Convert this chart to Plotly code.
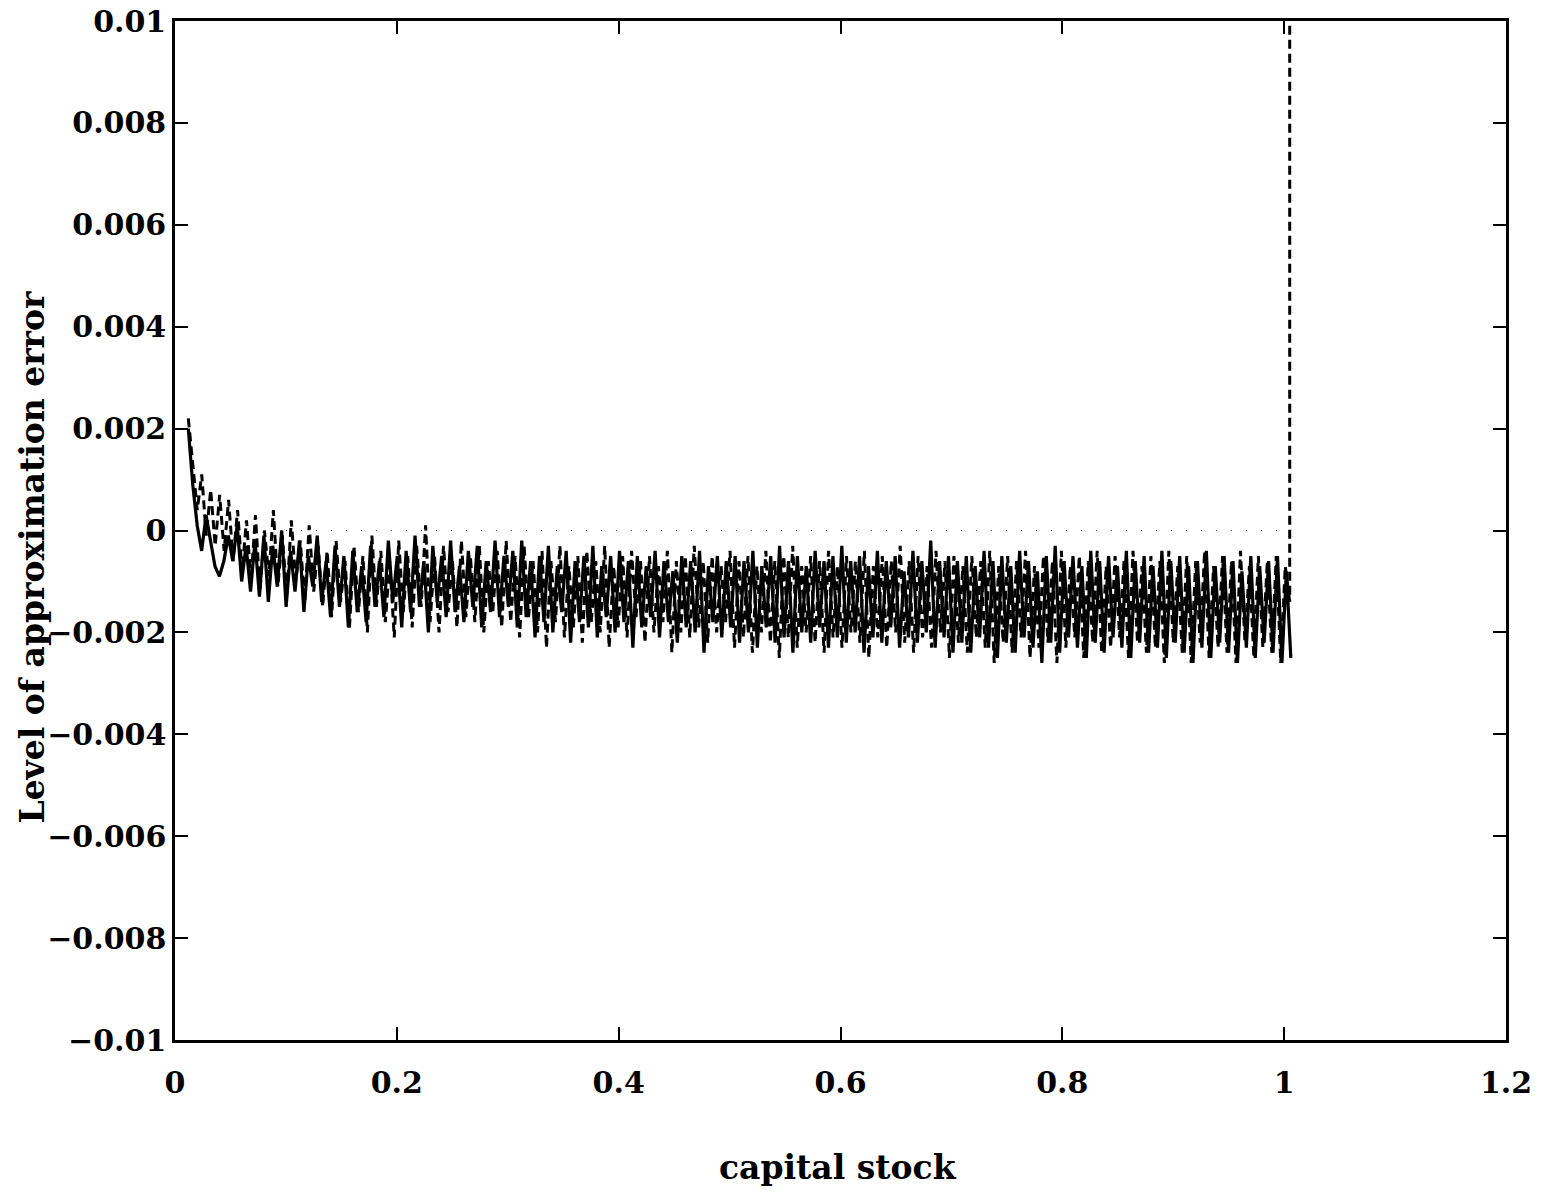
import numpy as np
import plotly.graph_objects as go

# ---- data ----
solid_x_range = [0.012, 1.006]
solid_err = [
    0.0020, 0.0009, 0.0001, -0.0004, 0.0003,
    -0.0002, -0.0007, -0.0009, -0.0006, -0.0001, -0.0006, 0.0001, -0.0010, -0.0003, -0.0012,
    -0.0002, -0.0013, -0.0001, -0.0014, -0.0003, -0.0011, 0.0000, -0.0015, -0.0004, -0.0012,
    -0.0002, -0.0016, -0.0005, -0.0011, -0.0001, -0.0014, -0.0006, -0.0017, -0.0003, -0.0015,
    -0.0005, -0.0019, -0.0004, -0.0016, -0.0007, -0.0018, -0.0003, -0.0015, -0.0006, -0.0017,
    -0.0002, -0.0014, -0.0005, -0.0019, -0.0004, -0.0016, -0.0001, -0.0015, -0.0006, -0.0020,
    -0.0003, -0.0014, -0.0005, -0.0017, -0.0002, -0.0016, -0.0007, -0.0018, -0.0004, -0.0015,
    -0.0003, -0.0019, -0.0006, -0.0016, -0.0002, -0.0017, -0.0005, -0.0015,
    -0.0004, -0.0019, -0.0002, -0.0017, -0.0006, -0.0021, -0.0005, -0.0018, -0.0003, -0.0020,
    -0.0007, -0.0016, -0.0004, -0.0022, -0.0006, -0.0018, -0.0005, -0.0019, -0.0003, -0.0021,
    -0.0007, -0.0017, -0.0005, -0.0020, -0.0004, -0.0018, -0.0006, -0.0023, -0.0005, -0.0019,
    -0.0007, -0.0017, -0.0004, -0.0021, -0.0006, -0.0018, -0.0008, -0.0022, -0.0005, -0.0019,
    -0.0006, -0.0020, -0.0004, -0.0024, -0.0007, -0.0018, -0.0005, -0.0021, -0.0006, -0.0019,
    -0.0005, -0.0022, -0.0006, -0.0020, -0.0004, -0.0023, -0.0007, -0.0019, -0.0005, -0.0022,
    -0.0003, -0.0021, -0.0006, -0.0024, -0.0005, -0.0020, -0.0007, -0.0022, -0.0004, -0.0019,
    -0.0006, -0.0023, -0.0005, -0.0021, -0.0003, -0.0022, -0.0006, -0.0020, -0.0005, -0.0024,
    -0.0007, -0.0021, -0.0004, -0.0022, -0.0006, -0.0019, -0.0005, -0.0023, -0.0008, -0.0021,
    -0.0004, -0.0022, -0.0006, -0.0020, -0.0002, -0.0023, -0.0006, -0.0021, -0.0005, -0.0024,
    -0.0006, -0.0022, -0.0005, -0.0024, -0.0007, -0.0021, -0.0004, -0.0023, -0.0006, -0.0025,
    -0.0005, -0.0022, -0.0007, -0.0024, -0.0004, -0.0021, -0.0006, -0.0023, -0.0008, -0.0026,
    -0.0005, -0.0022, -0.0003, -0.0024, -0.0006, -0.0021, -0.0005, -0.0023, -0.0007, -0.0025,
    -0.0004, -0.0022, -0.0006, -0.0024, -0.0005, -0.0021, -0.0007, -0.0023, -0.0004, -0.0025,
    -0.0006, -0.0022, -0.0005, -0.0024, -0.0007, -0.0023, -0.0004, -0.0025, -0.0006, -0.0022,
    -0.0005, -0.0024, -0.0007, -0.0026, -0.0006, -0.0023, -0.0004, -0.0025, -0.0007, -0.0022,
    -0.0005, -0.0024, -0.0006, -0.0026, -0.0008, -0.0023, -0.0005, -0.0025, -0.0007, -0.0022,
    -0.0006, -0.0024, -0.0005, -0.0026, -0.0008, -0.0025,
]

dashed_x_range = [0.012, 1.005]
dashed_err = [
    0.0022, 0.0013, 0.0004, 0.0011, -0.0001, 0.0008, -0.0003, 0.0007, -0.0004, 0.0006,
    -0.0006, 0.0004, -0.0008, 0.0002, -0.0010, 0.0003, -0.0012, 0.0000, -0.0009, 0.0004,
    -0.0011, -0.0001, -0.0013, 0.0002, -0.0010, -0.0002, -0.0014, 0.0001, -0.0012, -0.0003,
    -0.0015,
    -0.0004, -0.0017, -0.0002, -0.0014, -0.0006, -0.0019, -0.0003, -0.0016, -0.0005, -0.0020,
    -0.0001, -0.0015, -0.0004, -0.0018, -0.0006, -0.0021, -0.0002, -0.0016, -0.0005, -0.0019,
    -0.0003, -0.0015, 0.0001, -0.0018, -0.0005, -0.0020, -0.0003, -0.0016, -0.0006, -0.0019,
    -0.0002, -0.0017, -0.0005, -0.0018, -0.0003, -0.0020, -0.0006, -0.0016, -0.0004, -0.0019,
    -0.0002,
    -0.0018, -0.0005, -0.0021, -0.0003, -0.0017, -0.0006, -0.0020, -0.0004, -0.0023, -0.0006,
    -0.0018, -0.0003, -0.0021, -0.0007, -0.0019, -0.0005, -0.0022, -0.0004, -0.0018, -0.0006,
    -0.0020, -0.0003, -0.0023, -0.0007, -0.0019, -0.0005, -0.0021, -0.0004, -0.0017, -0.0006,
    -0.0022, -0.0005, -0.0020, -0.0007, -0.0018, -0.0004, -0.0024, -0.0006, -0.0020, -0.0005,
    -0.0021, -0.0003, -0.0019, -0.0006, -0.0022, -0.0005, -0.0020, -0.0007, -0.0018, -0.0004,
    -0.0023, -0.0006, -0.0021, -0.0005, -0.0024, -0.0007, -0.0020, -0.0004, -0.0022, -0.0006,
    -0.0025, -0.0005, -0.0021, -0.0003, -0.0023, -0.0007, -0.0020, -0.0005, -0.0022, -0.0006,
    -0.0024, -0.0004, -0.0021, -0.0007, -0.0023, -0.0005, -0.0020, -0.0006, -0.0022, -0.0004,
    -0.0025, -0.0007, -0.0021, -0.0005, -0.0023, -0.0006, -0.0020, -0.0003, -0.0022, -0.0006,
    -0.0024, -0.0005, -0.0021, -0.0007, -0.0023, -0.0004, -0.0020, -0.0006, -0.0025, -0.0005,
    -0.0022, -0.0007, -0.0024, -0.0005, -0.0021, -0.0006, -0.0023, -0.0004, -0.0026, -0.0007,
    -0.0022, -0.0005, -0.0024, -0.0006, -0.0021, -0.0004, -0.0025, -0.0007, -0.0023, -0.0005,
    -0.0022, -0.0006, -0.0026, -0.0004, -0.0023, -0.0007, -0.0021, -0.0005, -0.0025, -0.0006,
    -0.0022, -0.0004, -0.0024, -0.0007, -0.0023, -0.0005, -0.0021, -0.0006, -0.0025, -0.0004,
    -0.0022, -0.0007, -0.0024, -0.0005, -0.0023, -0.0006, -0.0026, -0.0004, -0.0022, -0.0007,
    -0.0024, -0.0005, -0.0026, -0.0006, -0.0022, -0.0004, -0.0025, -0.0007, -0.0023, -0.0005,
    -0.0024, -0.0006, -0.0026, -0.0004, -0.0022, -0.0007, -0.0025, -0.0005, -0.0023, -0.0006,
    -0.0024, -0.0005, -0.0026, -0.0007, -0.0014,
]
# dashed series ends with a jump up off the top of the axis
dashed_end = {"x": 1.005, "y": 0.0105}

zero_line_x = [0.1, 1.0]
zero_line_y = [0.0, 0.0]

x_ticks = [0, 0.2, 0.4, 0.6, 0.8, 1.0, 1.2]
x_tick_text = ["0", "0.2", "0.4", "0.6", "0.8", "1", "1.2"]
y_ticks = [0.01, 0.008, 0.006, 0.004, 0.002, 0, -0.002, -0.004, -0.006, -0.008, -0.01]
y_tick_text = ["0.01", "0.008", "0.006", "0.004", "0.002", "0", "\u22120.002",
               "\u22120.004", "\u22120.006", "\u22120.008", "\u22120.01"]

# ---- figure ----
solid_x = np.linspace(solid_x_range[0], solid_x_range[1], len(solid_err))
dashed_x = list(np.linspace(dashed_x_range[0], dashed_x_range[1], len(dashed_err))) + [dashed_end["x"]]
dashed_y = dashed_err + [dashed_end["y"]]

FONT = "DejaVu Serif"

fig = go.Figure()
fig.add_trace(go.Scatter(x=zero_line_x, y=zero_line_y, mode="lines",
                         line=dict(color="#555555", width=1.2, dash="1px,14px"),
                         hoverinfo="skip"))
fig.add_trace(go.Scatter(x=dashed_x, y=dashed_y, mode="lines",
                         line=dict(color="black", width=3, dash="9px,5px")))
fig.add_trace(go.Scatter(x=solid_x, y=solid_err, mode="lines",
                         line=dict(color="black", width=3.2)))

axis_common = dict(showline=True, linecolor="black", linewidth=2.5, mirror="ticks",
                   ticks="inside", ticklen=13, tickwidth=2, tickcolor="black",
                   showgrid=False, zeroline=False, automargin=False,
                   tickfont=dict(family=FONT, size=30, color="black", weight="bold"))

fig.update_xaxes(range=[0, 1.2], tickvals=x_ticks, ticktext=x_tick_text,
                 ticklabelstandoff=14, **axis_common)
fig.update_yaxes(range=[-0.01, 0.01], tickvals=y_ticks, ticktext=y_tick_text,
                 **axis_common)

fig.update_layout(
    width=1541, height=1192,
    margin=dict(l=175, r=35, t=21, b=152, autoexpand=False),
    paper_bgcolor="white", plot_bgcolor="white",
    showlegend=False,
    annotations=[
        dict(text="capital stock", xref="paper", yref="paper", x=0.498, y=-0.125,
             showarrow=False, xanchor="center", yanchor="middle",
             font=dict(family=FONT, size=33, color="black", weight="bold")),
        dict(text="Level of approximation error", xref="paper", yref="paper",
             x=-0.107, y=0.474, textangle=-90, showarrow=False,
             xanchor="center", yanchor="middle",
             font=dict(family=FONT, size=33, color="black", weight="bold")),
    ],
)

fig.write_html("out.html")
